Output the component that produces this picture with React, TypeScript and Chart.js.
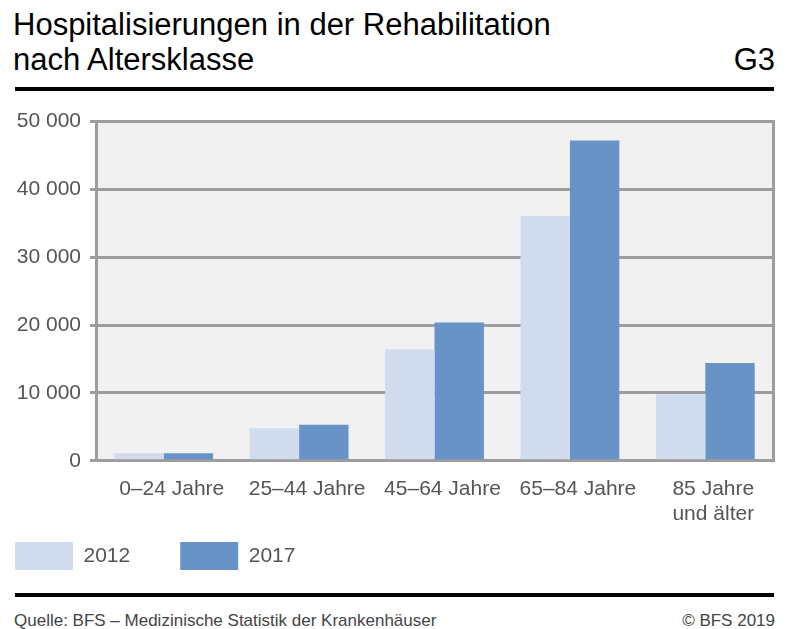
import React, { useEffect, useRef } from 'react';
import { Chart, registerables } from 'chart.js';

Chart.register(...registerables);

const categories: (string | string[])[] = [
  '0–24 Jahre',
  '25–44 Jahre',
  '45–64 Jahre',
  '65–84 Jahre',
  ['85 Jahre', 'und älter'],
];
const values2012 = [1100, 4800, 16400, 36100, 9800];
const values2017 = [1100, 5300, 20400, 47200, 14400];
const seriesLabels = ['2012', '2017'];
const yTickLabels = ['0', '10 000', '20 000', '30 000', '40 000', '50 000'];

const FONT = '"Liberation Sans", Arial, Helvetica, sans-serif';
const GRID = '#9d9d9d';
const LABEL = '#555555';

export default function App() {
  const ref = useRef<HTMLCanvasElement>(null);

  useEffect(() => {
    const canvas = ref.current;
    if (!canvas) return;
    const plotPlugin = {
      id: 'plotFrame',
      beforeDraw(chart: any) {
        const { ctx, chartArea } = chart;
        const { left, top, right, bottom } = chartArea;
        ctx.save();
        ctx.fillStyle = '#f0f1f0';
        ctx.fillRect(left, top, right - left, bottom - top);
        ctx.restore();
      },
      afterDraw(chart: any) {
        const { ctx, chartArea } = chart;
        const { top, right, bottom } = chartArea;
        ctx.save();
        ctx.strokeStyle = GRID;
        ctx.lineWidth = 3;
        ctx.beginPath();
        ctx.moveTo(Math.round(right) + 0.5, top - 1.5);
        ctx.lineTo(Math.round(right) + 0.5, bottom + 1.5);
        ctx.stroke();
        ctx.restore();
      },
    };

    const chart = new Chart(canvas, {
      type: 'bar',
      data: {
        labels: categories,
        datasets: [
          {
            label: seriesLabels[0],
            data: values2012,
            backgroundColor: '#d0dcee',
            borderWidth: 0,
            barPercentage: 1,
            categoryPercentage: 0.73,
          },
          {
            label: seriesLabels[1],
            data: values2017,
            backgroundColor: '#6893c7',
            borderWidth: 0,
            barPercentage: 1,
            categoryPercentage: 0.73,
          },
        ],
      },
      options: {
        responsive: false,
        animation: false,
        layout: { padding: { top: 20, right: 14, left: 0, bottom: 0 } },
        plugins: {
          tooltip: { enabled: false },
          title: { display: false },
          legend: {
            display: true,
            position: 'bottom',
            align: 'start',
            labels: {
              boxWidth: 58,
              boxHeight: 28,
              padding: 50,
              color: LABEL,
              font: { family: FONT, size: 21 },
            },
          },
        },
        scales: {
          x: {
            grid: { display: false, drawTicks: false },
            border: { display: false },
            ticks: {
              color: LABEL,
              font: { family: FONT, size: 21, lineHeight: 1.2 },
              padding: 16,
              labelOffset: 8,
              maxRotation: 0,
              autoSkip: false,
            },
            afterFit(scale: any) {
              scale.height = 31.2;
              // let the two-line label run below the axis box instead of being clipped
              scale._computeLabelArea = () => undefined;
            },
          },
          y: {
            min: 0,
            max: 50000,
            grid: { color: GRID, lineWidth: 3, tickLength: 6, drawTicks: true },
            border: { display: true, color: GRID, width: 3 },
            ticks: {
              stepSize: 10000,
              color: LABEL,
              padding: 9,
              font: { family: FONT, size: 21 },
              callback: (_v: any, i: number) => yTickLabels[i],
            },
            afterFit(scale: any) {
              scale.width = 131;
            },
          },
        },
      },
      plugins: [plotPlugin],
    } as any);
    return () => chart.destroy();
  }, []);

  return (
    <div
      style={{
        position: 'absolute',
        left: 0,
        top: 0,
        width: 787,
        height: 629,
        overflow: 'hidden',
        background: '#ffffff',
        fontFamily: FONT,
      }}
    >
      <div
        style={{
          position: 'absolute',
          left: 13,
          top: 7,
          fontSize: 31,
          lineHeight: '35px',
          color: '#000',
          whiteSpace: 'nowrap',
        }}
      >
        <div>Hospitalisierungen in der Rehabilitation</div>
        <div>nach Altersklasse</div>
      </div>
      <div
        style={{
          position: 'absolute',
          right: 12,
          top: 42,
          fontSize: 31,
          lineHeight: '35px',
          color: '#000',
          textAlign: 'right',
        }}
      >
        G3
      </div>
      <div style={{ position: 'absolute', left: 15, top: 87, width: 759, height: 4, background: '#000' }} />
      <canvas
        ref={ref}
        width={822}
        height={480}
        style={{ position: 'absolute', left: -35, top: 100, width: 822, height: 480 }}
      />
      <div style={{ position: 'absolute', left: 15, top: 593, width: 759, height: 4, background: '#000' }} />
      <div
        style={{
          position: 'absolute',
          left: 14,
          top: 611,
          fontSize: 17,
          lineHeight: '20px',
          color: '#444',
          whiteSpace: 'nowrap',
        }}
      >
        Quelle: BFS – Medizinische Statistik der Krankenhäuser
      </div>
      <div
        style={{
          position: 'absolute',
          right: 12,
          top: 611,
          fontSize: 17,
          lineHeight: '20px',
          color: '#444',
          whiteSpace: 'nowrap',
          textAlign: 'right',
        }}
      >
        © BFS 2019
      </div>
    </div>
  );
}
